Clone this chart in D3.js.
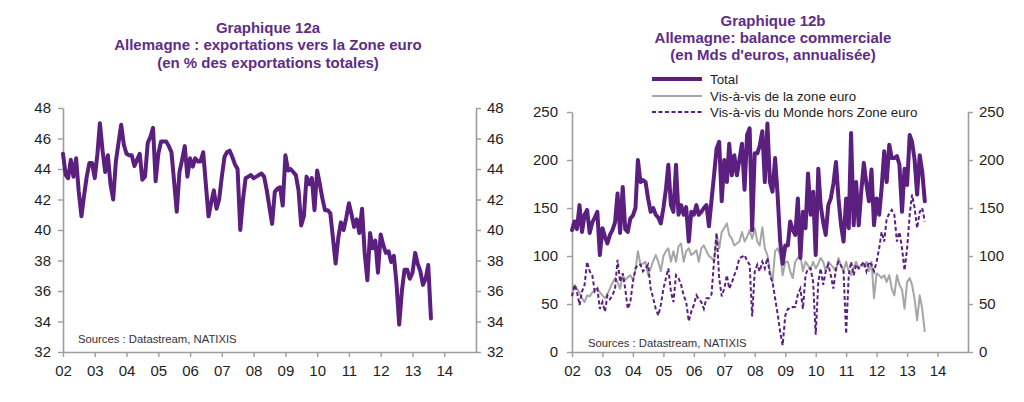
<!DOCTYPE html>
<html>
<head>
<meta charset="utf-8">
<script src="https://cdn.jsdelivr.net/npm/d3@7"></script>
<style>
  html, body { margin: 0; padding: 0; background: #fff; }
  svg { display: block; font-family: "Liberation Sans", Arial, sans-serif; }
</style>
</head>
<body>
<svg id="chart" width="1024" height="402"></svg>
<script>
// ---------- DATA ----------
const startYear = 2002;
const yearLabels = ["02","03","04","05","06","07","08","09","10","11","12","13","14"];

// Graphique 12a : exports to euro zone (% of total exports), monthly from Jan 2002
const exportShare = [
  45.0,43.6,43.4,44.6,43.5,44.7,42.5,40.9,42.3,43.5,44.4,44.4,
  43.4,45.0,47.0,45.2,43.8,44.9,43.0,42.0,44.5,45.7,46.9,45.6,
  45.0,44.9,44.9,44.2,44.6,45.0,43.3,43.5,45.7,46.1,46.7,43.2,
  45.0,45.8,45.8,45.8,45.5,45.1,43.2,41.2,43.8,44.6,45.5,43.5,
  44.7,44.15,44.7,44.5,44.5,45.1,43.0,40.9,41.8,42.6,41.4,42.0,
  43.5,44.8,45.1,45.2,44.8,44.3,44.0,40.0,42.0,43.4,43.5,43.6,
  43.4,43.5,43.6,43.7,43.5,42.6,41.5,40.4,42.5,42.7,42.8,41.6,
  44.9,43.9,44.0,43.8,43.6,42.6,40.3,40.9,43.5,43.0,43.4,41.3,
  43.9,43.0,42.1,41.3,41.3,41.1,39.5,37.8,39.5,40.5,40.0,40.8,
  41.75,41.0,40.2,40.7,39.8,41.4,38.5,36.7,39.8,38.8,39.3,37.2,
  39.7,39.0,38.5,38.6,37.9,38.3,36.5,33.8,36.0,37.4,37.4,36.8,
  37.2,38.5,37.8,37.3,36.4,36.8,37.7,34.2
];

// Graphique 12b : trade balance (bn EUR, annualised), monthly from Jan 2002
const totalBalance = [
  127,136,128,153,125,143,148,124,135,140,146,101,
  129,120,113,122,127,135,165,124,172,128,125,139,
  142,150,200,177,179,177,160,146,150,143,140,134,
  150,170,195,153,146,195,143,153,143,151,115,146,
  143,153,143,146,150,153,131,158,185,212,219,157,
  200,177,217,184,205,184,200,217,169,226,233,127,
  207,207,215,230,177,238,177,167,202,164,115,92,
  111,111,136,127,122,160,98,146,129,186,143,167,
  101,191,153,135,122,153,160,175,198,160,132,115,
  160,129,228,132,177,132,167,197,175,157,190,132,
  160,143,170,209,177,216,202,202,204,195,146,191,
  174,226,219,200,164,205,188,157
];
const euroZoneBalance = [
  59,70,66,62,56,52,59,58,62,65,66,62,
  59,56,60,66,72,77,73,66,80,75,78,80,
  75,85,105,91,92,94,80,87,95,101,94,84,
  100,105,108,94,105,94,110,113,94,105,108,101,
  103,106,94,108,111,105,100,98,94,122,108,125,
  129,134,122,118,111,113,115,125,115,120,127,118,
  129,115,111,130,108,101,85,73,105,108,101,80,
  94,94,84,77,94,98,101,84,94,90,87,94,
  87,92,98,94,84,94,91,88,84,98,90,84,
  94,84,80,88,94,87,91,89,94,84,94,56,
  82,80,77,80,73,80,66,59,80,70,65,45,
  73,77,70,55,33,59,45,21
];
const worldExEuroBalance = [
  58,70,63,49,63,70,94,84,80,63,66,45,
  52,42,59,55,59,66,96,73,82,66,45,52,
  73,87,91,91,84,87,91,66,56,45,38,49,
  66,77,87,63,52,80,77,70,59,52,32,42,
  49,59,55,52,45,56,56,60,96,124,77,58,
  66,80,66,72,80,87,98,99,101,95,91,37,
  84,91,84,94,87,98,80,73,56,40,21,7,
  38,45,45,47,47,60,66,45,80,87,87,73,
  18,73,87,70,84,91,80,66,87,94,90,84,
  19,80,94,80,91,87,90,94,84,94,91,84,
  94,108,125,115,139,144,148,143,115,125,108,85,
  108,143,164,150,129,146,150,136
];

const leftTicks = [32,34,36,38,40,42,44,46,48];
const rightTicks = [0,50,100,150,200,250];

const titleA = ["Graphique 12a", "Allemagne : exportations vers la Zone euro", "(en % des exportations totales)"];
const titleB = ["Graphique 12b", "Allemagne: balance commerciale", "(en Mds d'euros, annualisée)"];
const legendLabels = ["Total", "Vis-à-vis de la zone euro", "Vis-à-vis du Monde hors Zone euro"];
const sourceText = "Sources : Datastream, NATIXIS";

// ---------- STYLE ----------
const PURPLE = "#5b1f7f";
const TITLE = "#5e2d86";
const GREY = "#a6a6a6";
const AXIS = "#9d9d9d";
const TEXT = "#1e1e1e";

const svg = d3.select("#chart");
const dateOf = i => new Date(startYear, i, 1);
const yearDates = yearLabels.map((_, i) => new Date(startYear + i, 0, 1));

function drawAxes(g, x, y, ticks, xl, xr, yt, yb, padL, padR) {
  const xAxis = d3.axisBottom(x).tickValues(yearDates)
    .tickFormat((d, i) => yearLabels[i]).tickSize(5).tickSizeOuter(0).tickPadding(8);
  g.append("g").attr("transform", `translate(0,${yb})`).call(xAxis)
    .call(s => s.select(".domain").attr("d", `M${xl},0.5H${xr}`));
  const yl = d3.axisLeft(y).tickValues(ticks).tickSize(5).tickSizeOuter(0).tickPadding(padL);
  g.append("g").attr("transform", `translate(${xl},0)`).call(yl);
  const yr = d3.axisRight(y).tickValues(ticks).tickSize(5).tickSizeOuter(0).tickPadding(padR);
  g.append("g").attr("transform", `translate(${xr},0)`).call(yr);
  g.selectAll(".domain").attr("stroke", AXIS).attr("stroke-width", 1.6);
  g.selectAll(".tick line").attr("stroke", AXIS).attr("stroke-width", 1.4);
  g.selectAll(".tick text").attr("fill", TEXT).style("font-size", "15px")
    .style("font-family", '"Liberation Sans", Arial, sans-serif');
}

function drawTitle(lines, cx, baselines) {
  lines.forEach((t, i) => {
    svg.append("text").attr("x", cx).attr("y", baselines[i])
      .attr("text-anchor", "middle").attr("fill", TITLE)
      .style("font-size", "15px").style("font-weight", "bold").text(t);
  });
}

// ---------- CHART A ----------
{
  const xl = 63, xr = 476, yt = 108, yb = 352;
  const x = d3.scaleTime().domain([new Date(2002,0,1), new Date(2015,0,1)]).range([xl, xr]);
  const y = d3.scaleLinear().domain([32, 48]).range([yb, yt]);
  const g = svg.append("g");
  drawAxes(g, x, y, leftTicks, xl, xr, yt, yb, 7, 6);
  g.append("path").datum(exportShare)
    .attr("fill", "none").attr("stroke", PURPLE).attr("stroke-width", 4)
    .attr("stroke-linejoin", "round").attr("stroke-linecap", "round")
    .attr("d", d3.line().x((d, i) => x(dateOf(i))).y(d => y(d)));
  g.append("text").attr("x", 78).attr("y", 343).attr("fill", "#333")
    .style("font-size", "11.3px").text(sourceText);
  drawTitle(titleA, 268, [32.5, 50, 67.5]);
}

// ---------- CHART B ----------
{
  const xl = 572, xr = 968, yt = 112, yb = 352;
  const x = d3.scaleTime().domain([new Date(2002,0,1), new Date(2015,0,1)]).range([xl, xr]);
  const y = d3.scaleLinear().domain([0, 250]).range([yb, yt]);
  const g = svg.append("g");
  drawAxes(g, x, y, rightTicks, xl, xr, yt, yb, 9, 6);
  const line = d3.line().x((d, i) => x(dateOf(i))).y(d => y(d));
  g.append("path").datum(euroZoneBalance)
    .attr("fill", "none").attr("stroke", GREY).attr("stroke-width", 2)
    .attr("stroke-linejoin", "round").attr("d", line);
  g.append("path").datum(worldExEuroBalance)
    .attr("fill", "none").attr("stroke", PURPLE).attr("stroke-width", 2)
    .attr("stroke-dasharray", "4,2.5").attr("d", line);
  g.append("path").datum(totalBalance)
    .attr("fill", "none").attr("stroke", PURPLE).attr("stroke-width", 4)
    .attr("stroke-linejoin", "round").attr("stroke-linecap", "round").attr("d", line);
  g.append("text").attr("x", 588).attr("y", 347).attr("fill", "#333")
    .style("font-size", "11.3px").text(sourceText);
  drawTitle(titleB, 773, [26, 42.5, 59.5]);

  // legend
  const legY = [79, 96, 112];
  const legStyles = [
    {stroke: PURPLE, w: 4, dash: null},
    {stroke: GREY, w: 2, dash: null},
    {stroke: PURPLE, w: 2, dash: "4,2.5"}
  ];
  legendLabels.forEach((lab, i) => {
    const s = legStyles[i];
    svg.append("line").attr("x1", 652).attr("x2", 702).attr("y1", legY[i]).attr("y2", legY[i])
      .attr("stroke", s.stroke).attr("stroke-width", s.w)
      .attr("stroke-dasharray", s.dash);
    svg.append("text").attr("x", 710).attr("y", legY[i]).attr("dy", "0.35em")
      .attr("fill", TEXT).style("font-size", "13.3px").text(lab);
  });
}
</script>
</body>
</html>
